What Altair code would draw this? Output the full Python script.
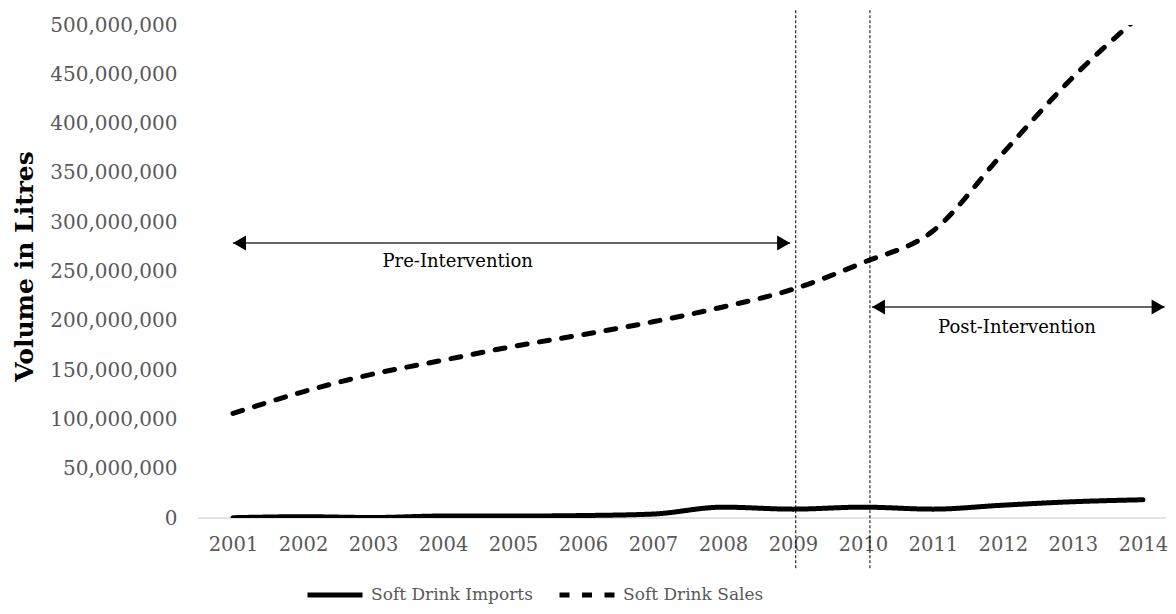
import altair as alt
import pandas as pd

years = list(range(2001, 2015))
imports = [0.3e6, 1.3e6, 0.5e6, 2.0e6, 2.0e6, 2.5e6, 4.0e6, 11.0e6, 9.0e6, 11.0e6, 9.0e6, 13.0e6, 16.5e6, 18.5e6]
sales = [106e6, 128e6, 146e6, 160e6, 174e6, 186e6, 199e6, 214e6, 232e6, 259e6, 291e6, 370e6, 447e6, 512e6]
series_names = ["Soft Drink Imports", "Soft Drink Sales"]

y_ticks = list(range(0, 500_000_001, 50_000_000))

# annotation positions (data units)
vline_x = [2009.04, 2010.1]
vline_top = [515e6, 515e6]
vline_bottom = [-51e6, -51e6]

arrow_start = [2001.0, 2010.13]
arrow_end = [2008.96, 2014.31]
arrow_y = [279e6, 214e6]

label_text = ["Pre-Intervention", "Post-Intervention"]
label_x = [2004.21, 2012.2]
label_y = [260e6, 192.5e6]

FONT = "DejaVu Serif"

df = pd.DataFrame({
    "year": years * 2,
    "value": imports + sales,
    "series": [series_names[0]] * len(years) + [series_names[1]] * len(years),
})
vdf = pd.DataFrame({"x": vline_x, "top": vline_top, "bottom": vline_bottom})
adf = pd.DataFrame({"x": arrow_start, "x2": arrow_end, "y": arrow_y})
ldf = pd.DataFrame({"text": label_text, "x": label_x, "y": label_y})

xscale = alt.Scale(domain=[2000.5, 2014.33], nice=False, zero=False)
yscale = alt.Scale(domain=[0, 500_000_000], nice=False)

xaxis = alt.Axis(values=years, format="d", title=None, grid=False, ticks=False, domain=False,
                 labelFont=FONT, labelFontSize=19.5, labelColor="#595959", labelPadding=17,
                 labelFlush=False, labelOverlap=False, labelBound=False)
yaxis = alt.Axis(values=y_ticks, format=",d", title="Volume in Litres", grid=False, ticks=False,
                 domain=False, labelFont=FONT, labelFontSize=20, labelColor="#595959",
                 labelPadding=21, titleFont=FONT, titleFontSize=25, titleFontWeight="bold",
                 titleColor="black", titleX=-174, titleY=241, titleAngle=-90,
                 titleAlign="center", titleBaseline="middle")

zero_rule = alt.Chart(pd.DataFrame({"y": [0]})).mark_rule(color="#d9d9d9", strokeWidth=1.5).encode(
    y=alt.Y("y:Q", scale=yscale, axis=yaxis)
)

lines = alt.Chart(df).mark_line(color="black", strokeWidth=5, strokeCap="round",
                                interpolate="monotone", clip=True).encode(
    x=alt.X("year:Q", scale=xscale, axis=xaxis),
    y=alt.Y("value:Q", scale=yscale),
    strokeDash=alt.StrokeDash(
        "series:N",
        scale=alt.Scale(domain=series_names, range=[[1, 0], [10, 12.5]]),
        legend=alt.Legend(title=None, orient="none", legendX=107, legendY=540, direction="horizontal",
                          symbolType="stroke", symbolSize=3025, symbolStrokeWidth=5,
                          symbolStrokeColor="black", labelFont=FONT, labelFontSize=17,
                          labelColor="#595959", columnPadding=16, labelOffset=6, padding=0,
                          labelLimit=400),
    ),
)

vlines = alt.Chart(vdf).mark_rule(color="black", strokeWidth=1, strokeDash=[3, 2]).encode(
    x=alt.X("x:Q", scale=xscale),
    y=alt.Y("top:Q", scale=yscale),
    y2="bottom:Q",
)

arrows = alt.Chart(adf).mark_rule(color="#333333", strokeWidth=1.5).encode(
    x=alt.X("x:Q", scale=xscale),
    x2="x2:Q",
    y=alt.Y("y:Q", scale=yscale),
)
heads_left = alt.Chart(adf).mark_point(shape="triangle-left", filled=True, color="black",
                                       size=225, opacity=1, xOffset=6.5).encode(
    x=alt.X("x:Q", scale=xscale),
    y=alt.Y("y:Q", scale=yscale),
)
heads_right = alt.Chart(adf).mark_point(shape="triangle-right", filled=True, color="black",
                                        size=225, opacity=1, xOffset=-6.5).encode(
    x=alt.X("x2:Q", scale=xscale),
    y=alt.Y("y:Q", scale=yscale),
)
labels = alt.Chart(ldf).mark_text(font=FONT, fontSize=18, color="black", align="center",
                                  baseline="middle").encode(
    x=alt.X("x:Q", scale=xscale),
    y=alt.Y("y:Q", scale=yscale),
    text="text:N",
)

chart = alt.layer(zero_rule, lines, vlines, arrows, heads_left, heads_right, labels).properties(
    width=968, height=493,
    background="white",
    autosize=alt.AutoSizeParams(type="none"),
    padding={"left": 190, "top": 17, "right": 2, "bottom": 88},
).configure_view(strokeWidth=0, stroke=None)

chart.save("out.html", embed_options={"renderer": "svg", "actions": False})
